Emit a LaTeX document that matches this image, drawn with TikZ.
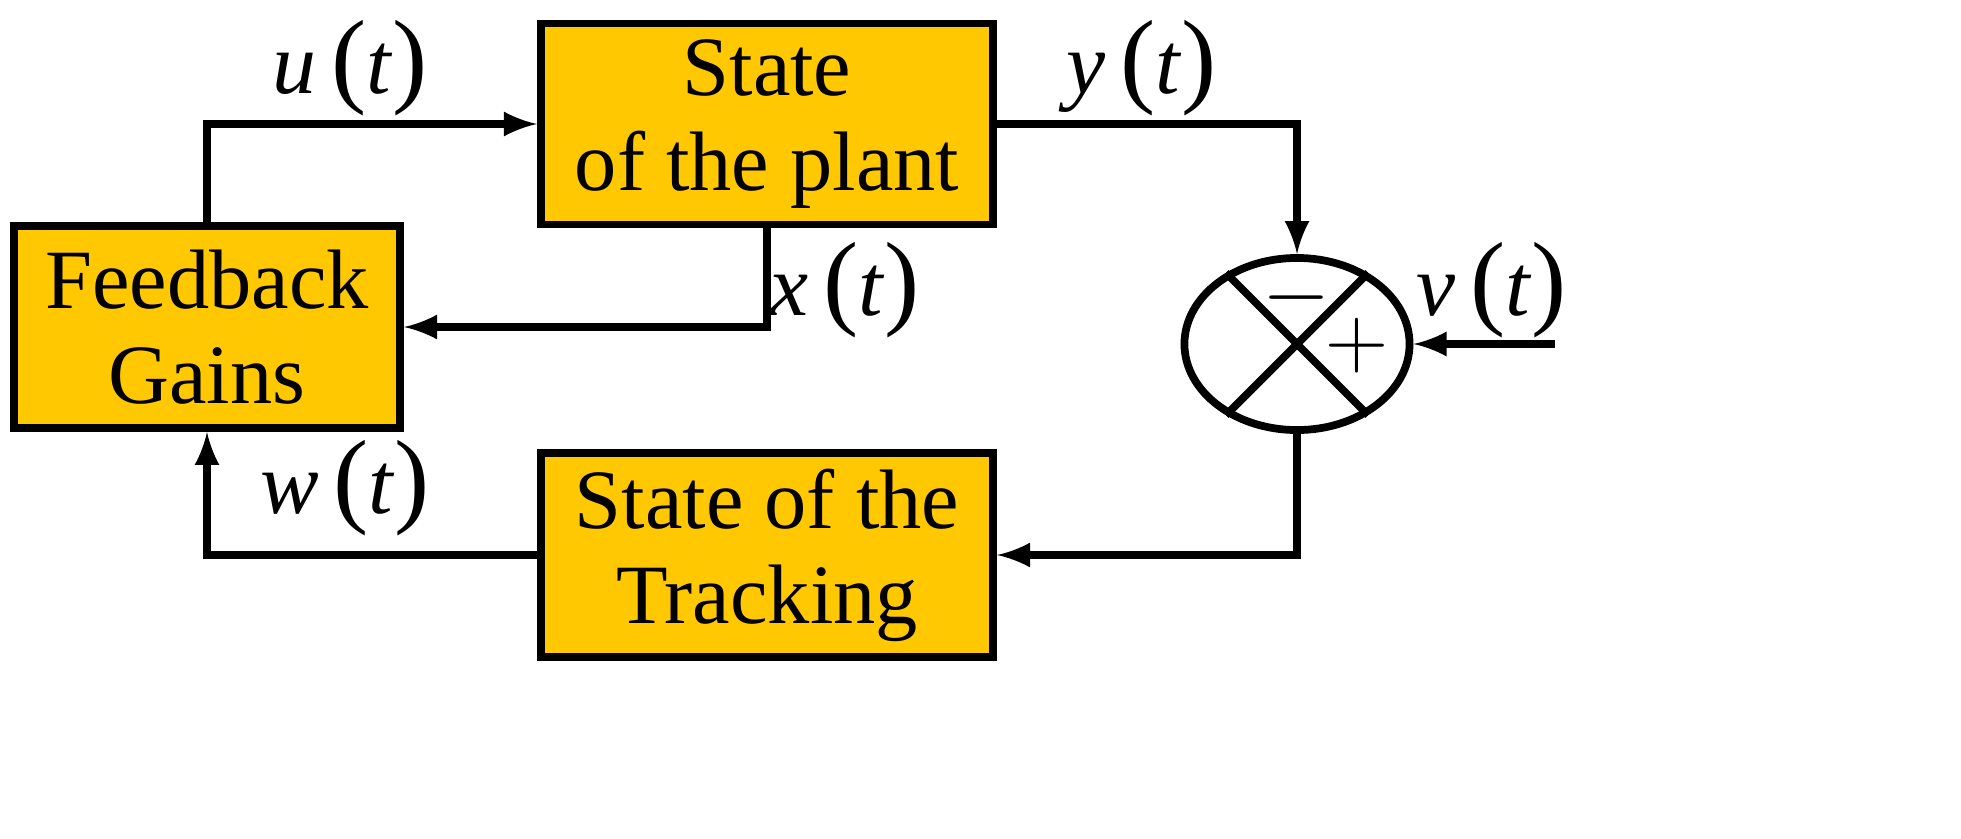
\documentclass[tikz,border=0pt]{standalone}
\usepackage{fontspec}
\setmainfont{Liberation Serif}
\usetikzlibrary{arrows,shapes.geometric}
\definecolor{boxfill}{HTML}{FFC800}
\newcommand{\sgn}[1]{\textit{#1}\,{\fontsize{30}{30}\selectfont(}\textit{t}{\fontsize{30}{30}\selectfont)}}

\begin{document}
\begin{tikzpicture}[x=0.01cm,y=0.01cm,->,>=latex,line width=2.2pt,
                    font=\fontsize{24}{27}\selectfont]
  \tikzstyle{block}=[draw,fill=boxfill,align=center,inner sep=0pt,
                     line width=2.2pt]
  \tikzstyle{sig}=[font=\fontsize{25}{28}\selectfont]
  \fill[white] (0,0) rectangle (1961,838);
  \useasboundingbox (0,0) rectangle (1961,838);

  \node[block,minimum width=4.52cm,minimum height=2.01cm]
        (plant) at (767,714) {State\\of the plant};
  \node[block,minimum width=3.86cm,minimum height=2.02cm]
        (gain) at (207,511) {Feedback\\Gains};
  \node[block,minimum width=4.52cm,minimum height=2.04cm]
        (track) at (767,283) {State of the\\Tracking};
  \node[draw,ellipse,minimum width=2.25cm,minimum height=1.72cm,-]
        (sum) at (1297,494) {};
  \coordinate (vin) at (1555,494);

  \draw[-] (sum.45) -- (sum.225);
  \draw[-] (sum.135) -- (sum.315);
  \node at (1297,540) {$-$};
  \node at (1357,492) {$+$};

  \draw (gain.north) |- (plant.west);
  \draw (plant.east) -| (sum.north);
  \draw (plant.south) |- (gain.east);
  \draw (vin) -- (sum.east);
  \draw (sum.south) |- (track.east);
  \draw (track.west) -| (gain.south);

  \node[sig] (u) at (350,770) {\sgn{u}};
  \node[sig] (y) at (1142,770) {\sgn{y}};
  \node[sig] (x) at (845,548) {\sgn{x}};
  \node[sig] (v) at (1492,548) {\sgn{v}};
  \node[sig] (w) at (345,350) {\sgn{w}};
\end{tikzpicture}
\end{document}
